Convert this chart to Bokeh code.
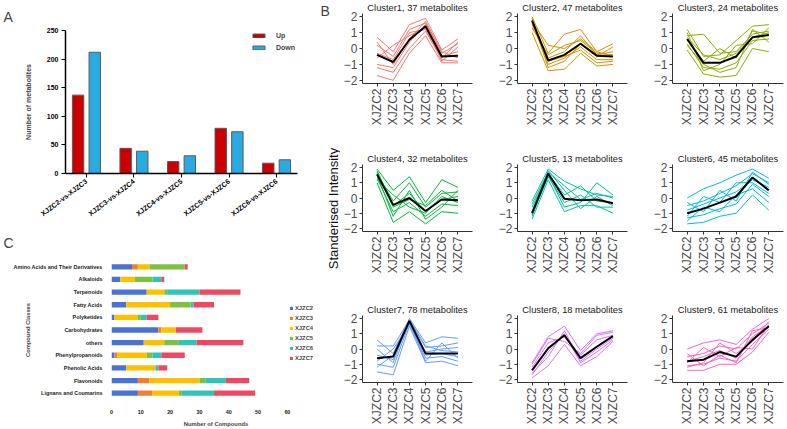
import math
from bokeh.plotting import figure
from bokeh.models import (FactorRange, Range1d, Label, FixedTicker, ColumnDataSource, Legend, LegendItem)
from bokeh.layouts import row, column
from bokeh.embed import file_html
from bokeh.resources import INLINE
from bokeh.transform import dodge

FONT = "Liberation Sans"

# ---------------- Panel A data ----------------
comparisons = ["XJZC2-vs-XJZC3", "XJZC3-vs-XJZC4", "XJZC4-vs-XJZC5", "XJZC5-vs-XJZC6", "XJZC6-vs-XJZC6"]
up_counts = [137, 44, 21, 79, 18]
down_counts = [212, 39, 31, 73, 24]
a_yticks = [0, 50, 100, 150, 200, 250]

# ---------------- Panel C data ----------------
compound_classes = ["Amino Acids and Their Derivatives", "Alkaloids", "Terpenoids", "Fatty Acids",
                    "Polyketides", "Carbohydrates", "others", "Phenylpropanoids", "Phenolic Acids",
                    "Flavonoids", "Lignans and Coumarins"]
groups = ["XJZC2", "XJZC3", "XJZC4", "XJZC5", "XJZC6", "XJZC7"]
xjzc2 = [7, 3, 12, 5, 1, 16, 11, 1, 5, 9, 9]
xjzc3 = [2, 0, 0, 0, 0, 1, 0, 1, 0, 4, 5]
xjzc4 = [4, 5, 6, 15, 8, 5, 7, 10, 10, 17, 9]
xjzc5 = [12, 6, 1, 7, 1, 0, 5, 2, 0, 2, 1]
xjzc6 = [0, 3, 11, 1, 2, 0, 6, 3, 1, 7, 11]
xjzc7 = [1, 1, 14, 7, 4, 9, 16, 8, 3, 8, 14]
c_xticks = [0, 10, 20, 30, 40, 50, 60]
group_colors = ["#4A72D4", "#F0802E", "#FFC000", "#7CC242", "#2EC4B6", "#EE4862"]

# ---------------- Panel B data ----------------
samples = ["XJZC2", "XJZC3", "XJZC4", "XJZC5", "XJZC6", "XJZC7"]
cluster_titles = ["Cluster1, 37 metabolites", "Cluster2, 47 metabolites", "Cluster3, 24 metabolites",
                  "Cluster4, 32 metabolites", "Cluster5, 13 metabolites", "Cluster6, 45 metabolites",
                  "Cluster7, 78 metabolites", "Cluster8, 18 metabolites", "Cluster9, 61 metabolites"]
cluster_colors = ["#F8766D", "#D39200", "#93AA00", "#00BA38", "#00C19F", "#00B9E3", "#619CFF", "#DB72FB", "#FF61C3"]
cluster_means = [
    [-0.4, -0.85, 0.55, 1.4, -0.5, -0.45],
    [1.75, -0.75, -0.4, 0.3, -0.45, -0.5],
    [0.6, -0.9, -0.9, -0.5, 0.7, 0.85],
    [1.55, -0.45, 0.0, -0.85, -0.1, -0.15],
    [-1.0, 1.6, -0.05, -0.15, -0.1, -0.35],
    [-1.0, -0.7, -0.3, 0.1, 1.35, 0.5],
    [-0.6, -0.5, 1.85, -0.3, -0.3, -0.3],
    [-1.4, 0.05, 0.9, -0.6, 0.15, 0.85],
    [-0.8, -0.7, -0.2, -0.5, 0.6, 1.5],
]
c1_lines = [[0.7, -0.2, 1.5, 1.9, -0.1, 0.6], [-1.7, -2.0, -0.3, 0.8, -0.9, -0.9],
            [0.2, -0.5, 1.2, 1.6, -0.3, 0.3], [-1.2, -1.5, 0.0, 1.1, -0.7, -0.8],
            [-0.6, 0.2, 0.8, 1.3, -0.5, -0.2], [-1.0, -1.2, 0.4, 1.5, -0.8, 0.1],
            [0.4, -1.0, 0.6, 1.7, -0.2, -0.6], [-0.3, -0.7, 1.0, 1.2, -0.6, 0.4]]
c2_lines = [[2.0, -0.3, 0.9, 1.2, -0.2, 0.3], [1.0, -1.4, -1.3, -0.3, -1.1, -1.0],
            [1.6, -0.6, -0.2, 0.8, -0.4, -0.2], [1.9, -1.0, -0.6, 0.1, -0.7, -0.7],
            [1.3, -0.4, 0.2, 0.5, -0.3, -0.4], [1.8, -1.2, -0.8, 0.3, -0.5, 0.1],
            [1.5, -0.8, -0.5, -0.1, -0.9, -0.8], [1.7, 0.2, 0.0, 0.6, -0.2, -0.5]]
c3_lines = [[1.2, -0.5, -0.4, 0.5, 1.4, 1.5], [-0.1, -1.6, -1.8, -1.7, 0.0, -0.2],
            [0.8, 0.9, -0.3, -0.2, 0.9, 1.1], [0.3, -1.2, -1.3, -0.9, 0.5, 0.6],
            [0.5, -0.8, 0.0, -0.6, 1.1, 0.9], [1.0, -1.4, -1.0, 0.2, 0.3, 1.3],
            [0.2, -1.0, -1.5, -1.2, 1.2, 0.4], [0.7, -0.4, -0.7, -0.3, 0.7, 1.0]]
c4_lines = [[1.9, 0.5, 1.4, -0.3, 1.2, 0.7], [1.0, -1.6, -0.9, -1.7, -0.9, -1.0],
            [1.6, -0.2, 1.0, -0.6, 0.3, 0.4], [1.3, -0.9, -0.3, -1.2, -0.4, -0.5],
            [1.8, -0.5, 0.3, -0.9, -0.1, 0.1], [1.2, 0.2, -0.6, -1.0, 0.1, -0.3],
            [1.5, -1.2, 0.5, -1.4, -0.6, 0.5], [1.7, -0.6, -0.1, -0.5, 0.5, -0.2]]
c5_lines = [[-0.2, 1.9, 1.1, 0.6, 0.2, 0.1], [-1.4, 1.2, -0.9, -0.5, -0.5, -1.0],
            [-0.6, 1.6, 0.2, 0.8, -0.2, -0.3], [-1.2, 1.5, -0.6, -0.3, 1.0, 0.2],
            [-0.9, 1.8, 0.5, -0.7, 0.1, -0.5], [-1.1, 1.4, -0.3, 0.2, -0.6, -0.6],
            [-0.4, 1.7, 0.8, -0.1, 0.3, 0.0]]
c6_lines = [[0.0, 0.6, 1.0, 1.5, 1.9, 1.3], [-1.7, -1.6, -1.2, -1.0, 0.2, -0.8],
            [-0.5, -0.2, 0.3, 0.8, 1.6, 1.0], [-1.3, -1.1, -0.7, -0.4, 0.9, 0.1],
            [-0.8, -0.4, 0.0, 0.4, 1.2, 0.7], [-1.2, 0.1, -0.3, 1.0, 1.0, 0.3],
            [-0.3, -0.9, 0.5, -0.2, 1.7, 0.9], [-1.5, -0.6, -0.9, 0.2, 0.6, -0.3]]
c7_lines = [[0.6, -0.3, 2.0, 0.4, 0.8, 0.7], [-1.5, -1.7, 1.5, -0.9, -0.8, -1.1],
            [0.2, 0.2, 1.9, 0.1, 0.2, 0.4], [-1.0, -1.2, 1.7, -0.6, -0.5, -0.8],
            [-0.4, -0.7, 1.8, -0.2, 0.0, 0.1], [-0.8, 0.0, 1.6, -0.4, -0.3, -0.5],
            [0.0, -0.9, 1.9, 0.2, -0.1, -0.2], [-1.2, -0.4, 1.7, -0.8, 0.4, -0.6]]
c8_lines = [[-0.9, 0.8, 1.5, -0.1, 1.0, 1.2], [-1.9, -1.1, 0.3, -1.1, -0.5, 0.5],
            [-1.2, 0.4, 0.8, -0.4, 0.6, 0.9], [-1.6, -0.5, 1.2, -0.8, 0.0, 0.7],
            [-1.0, 0.7, 0.5, -0.3, 0.9, 1.1], [-1.7, -0.2, 1.0, -0.9, -0.2, 0.6]]
c9_lines = [[0.0, 0.4, 0.6, 0.3, 1.3, 2.0], [-1.4, -1.4, -1.0, -1.0, -0.2, 1.1],
            [-0.5, -0.3, 0.2, 0.0, 1.0, 1.7], [-1.1, -1.0, -0.6, -0.8, 0.3, 1.3],
            [-0.8, -0.5, -0.1, -0.6, 0.8, 1.5], [-1.2, -0.9, 0.4, -0.3, 0.5, 1.8],
            [-0.3, -1.1, -0.4, -0.9, 1.2, 1.4], [-0.9, 0.1, -0.5, 0.1, 0.0, 1.6]]
cluster_lines = [c1_lines, c2_lines, c3_lines, c4_lines, c5_lines, c6_lines, c7_lines, c8_lines, c9_lines]
b_yticks = [-2, -1, 0, 1, 2]


def base_fig(**kw):
    p = figure(output_backend="svg", toolbar_location=None, **kw)
    p.xgrid.visible = False
    p.ygrid.visible = False
    p.outline_line_color = None
    p.background_fill_color = "white"
    p.border_fill_color = "white"
    return p

# ================= Panel A =================
srcA = ColumnDataSource(dict(cmp=comparisons, up=up_counts, down=down_counts))
pA = base_fig(width=320, height=222,
              x_range=FactorRange(*comparisons, range_padding=-0.024),
              y_range=Range1d(0, 250),
              min_border_left=65, min_border_right=23, min_border_top=29, min_border_bottom=45)
rU = pA.vbar(x=dodge("cmp", -0.175, range=pA.x_range), top="up", width=0.24, source=srcA,
             fill_color="#CC0000", line_color="#5a5a5a", line_width=1)
rD = pA.vbar(x=dodge("cmp", 0.175, range=pA.x_range), top="down", width=0.24, source=srcA,
             fill_color="#29ABE2", line_color="#5a5a5a", line_width=1)
pA.yaxis.ticker = FixedTicker(ticks=a_yticks)
pA.yaxis.axis_label = "Number of metabolites"
pA.yaxis.axis_label_text_font_size = "7px"
pA.yaxis.axis_label_text_font_style = "bold"
pA.yaxis.axis_label_text_font = FONT
pA.yaxis.axis_label_standoff = 12
for ax in (pA.xaxis[0], pA.yaxis[0]):
    ax.major_label_text_font_size = "7px"
    ax.major_label_text_font_style = "bold"
    ax.major_label_text_font = FONT
    ax.major_label_text_color = "black"
    ax.axis_line_color = "black"
    ax.axis_line_width = 1.5
    ax.major_tick_line_color = "black"
    ax.major_tick_out = 4
    ax.major_tick_in = 0
    ax.minor_tick_line_color = None
pA.xaxis.major_label_orientation = 0.65
pA.xaxis.major_label_standoff = 3
pA.yaxis.major_label_standoff = 3
pA.title.text = "A"
pA.title.text_font_size = "14px"
pA.title.text_font_style = "normal"
pA.title.text_font = FONT
pA.title.align = "left"
pA.title.offset = -62
pA.title.standoff = 12
lg = Legend(items=[LegendItem(label="Up", renderers=[rU]), LegendItem(label="Down", renderers=[rD])],
            location=(186, 120), orientation="vertical", glyph_width=15, glyph_height=5,
            label_height=12, spacing=0, padding=0, margin=0, label_standoff=10,
            label_text_font_size="7px", label_text_font_style="bold", label_text_font=FONT,
            border_line_color=None, background_fill_alpha=0)
pA.add_layout(lg)

# ================= Panel C =================
srcC = ColumnDataSource(dict(cls=compound_classes, XJZC2=xjzc2, XJZC3=xjzc3, XJZC4=xjzc4,
                             XJZC5=xjzc5, XJZC6=xjzc6, XJZC7=xjzc7))
pC = base_fig(width=320, height=207,
              y_range=FactorRange(*list(reversed(compound_classes)), range_padding=0),
              x_range=Range1d(0, 71.3),
              min_border_left=111, min_border_right=0, min_border_top=37, min_border_bottom=29)
rc = pC.hbar_stack(groups, y="cls", height=0.42, color=group_colors, source=srcC, line_color=None)
pC.xaxis.ticker = FixedTicker(ticks=c_xticks)
pC.xaxis.axis_label = "Number of Compounds"
pC.xaxis.axis_label_standoff = 4
pC.yaxis.axis_label = "Compound Classes"
pC.yaxis.axis_label_standoff = -20
for ax in (pC.xaxis[0], pC.yaxis[0]):
    ax.major_label_text_font_size = "5.4px"
    ax.major_label_text_font_style = "bold"
    ax.major_label_text_font = FONT
    ax.major_label_text_color = "#222222"
    ax.axis_line_color = None
    ax.major_tick_line_color = None
    ax.minor_tick_line_color = None
    ax.axis_label_text_font_size = "5.8px"
    ax.axis_label_text_font_style = "bold"
    ax.axis_label_text_font = FONT
pC.yaxis.major_label_standoff = 3
pC.xaxis.major_label_standoff = 4
pC.title.text = "C"
pC.title.text_font_size = "14px"
pC.title.text_font_style = "normal"
pC.title.text_font = FONT
pC.title.align = "left"
pC.title.offset = -108
pC.title.standoff = 20
lc = Legend(items=[LegendItem(label=g, renderers=[r]) for g, r in zip(groups, rc)],
            location=(178, 36), glyph_width=4, glyph_height=4, label_height=10, spacing=0,
            padding=0, margin=0, label_standoff=2, label_text_font_size="5.8px",
            label_text_font_style="bold", label_text_font=FONT,
            border_line_color=None, background_fill_alpha=0)
pC.add_layout(lc)

# ================= Label strip for B =================
pL = base_fig(width=20, height=429, x_range=Range1d(0, 20), y_range=Range1d(0, 429),
              min_border_left=0, min_border_right=0, min_border_top=0, min_border_bottom=0)
pL.axis.visible = False
pL.add_layout(Label(x=0, y=419, text="B", text_align="left", text_baseline="middle",
                    text_font_size="14px", text_font=FONT))
pL.add_layout(Label(x=13, y=221, text="Standerised Intensity", angle=math.pi / 2,
                    text_align="center", text_baseline="middle",
                    text_font_size="13px", text_font=FONT, text_color="#111111"))

# ================= Panel B clusters =================
col_w = [154, 155, 138]
col_l = [21, 23, 23]
col_r = [22, 22, 4]
row_h = [140, 145, 144]
row_t = [13, 24, 30]
row_b = [57, 54, 47]

rows = []
for r in range(3):
    figs = []
    for c in range(3):
        k = r * 3 + c
        p = base_fig(width=col_w[c], height=row_h[r],
                     x_range=FactorRange(*samples, range_padding=0.133),
                     y_range=Range1d(-2.2, 2.2),
                     min_border_left=col_l[c], min_border_right=col_r[c],
                     min_border_top=row_t[r], min_border_bottom=row_b[r])
        p.multi_line(xs=[samples] * len(cluster_lines[k]), ys=cluster_lines[k],
                     line_color=cluster_colors[k], line_width=1)
        p.line(x=samples, y=cluster_means[k], line_color="black", line_width=2)
        p.title.text = cluster_titles[k]
        p.title.align = "center"
        p.title.text_font_size = "9.3px"
        p.title.text_font_style = "normal"
        p.title.text_font = FONT
        p.title.text_color = "#1a1a1a"
        p.title.standoff = 1
        p.yaxis.ticker = FixedTicker(ticks=b_yticks)
        p.yaxis.major_label_overrides = {-2: "\u22122", -1: "\u22121"}
        for ax in (p.xaxis[0], p.yaxis[0]):
            ax.major_label_text_font_size = "12px"
            ax.major_label_text_font = FONT
            ax.major_label_text_color = "#4D4D4D"
            ax.axis_line_color = "#333333"
            ax.axis_line_width = 1
            ax.major_tick_line_color = "#333333"
            ax.major_tick_out = 3
            ax.major_tick_in = 0
            ax.minor_tick_line_color = None
        p.xaxis.major_label_orientation = math.pi / 2
        p.xaxis.major_label_standoff = 2
        p.yaxis.major_label_standoff = 2
        figs.append(p)
    rows.append(row(*figs, spacing=0))

left = column(row(pA, spacing=0), row(pC, spacing=0), spacing=0)
right = column(*rows, spacing=0)
page = row(left, pL, right, spacing=0)

open("out.html", "w").write(file_html(page, INLINE))
